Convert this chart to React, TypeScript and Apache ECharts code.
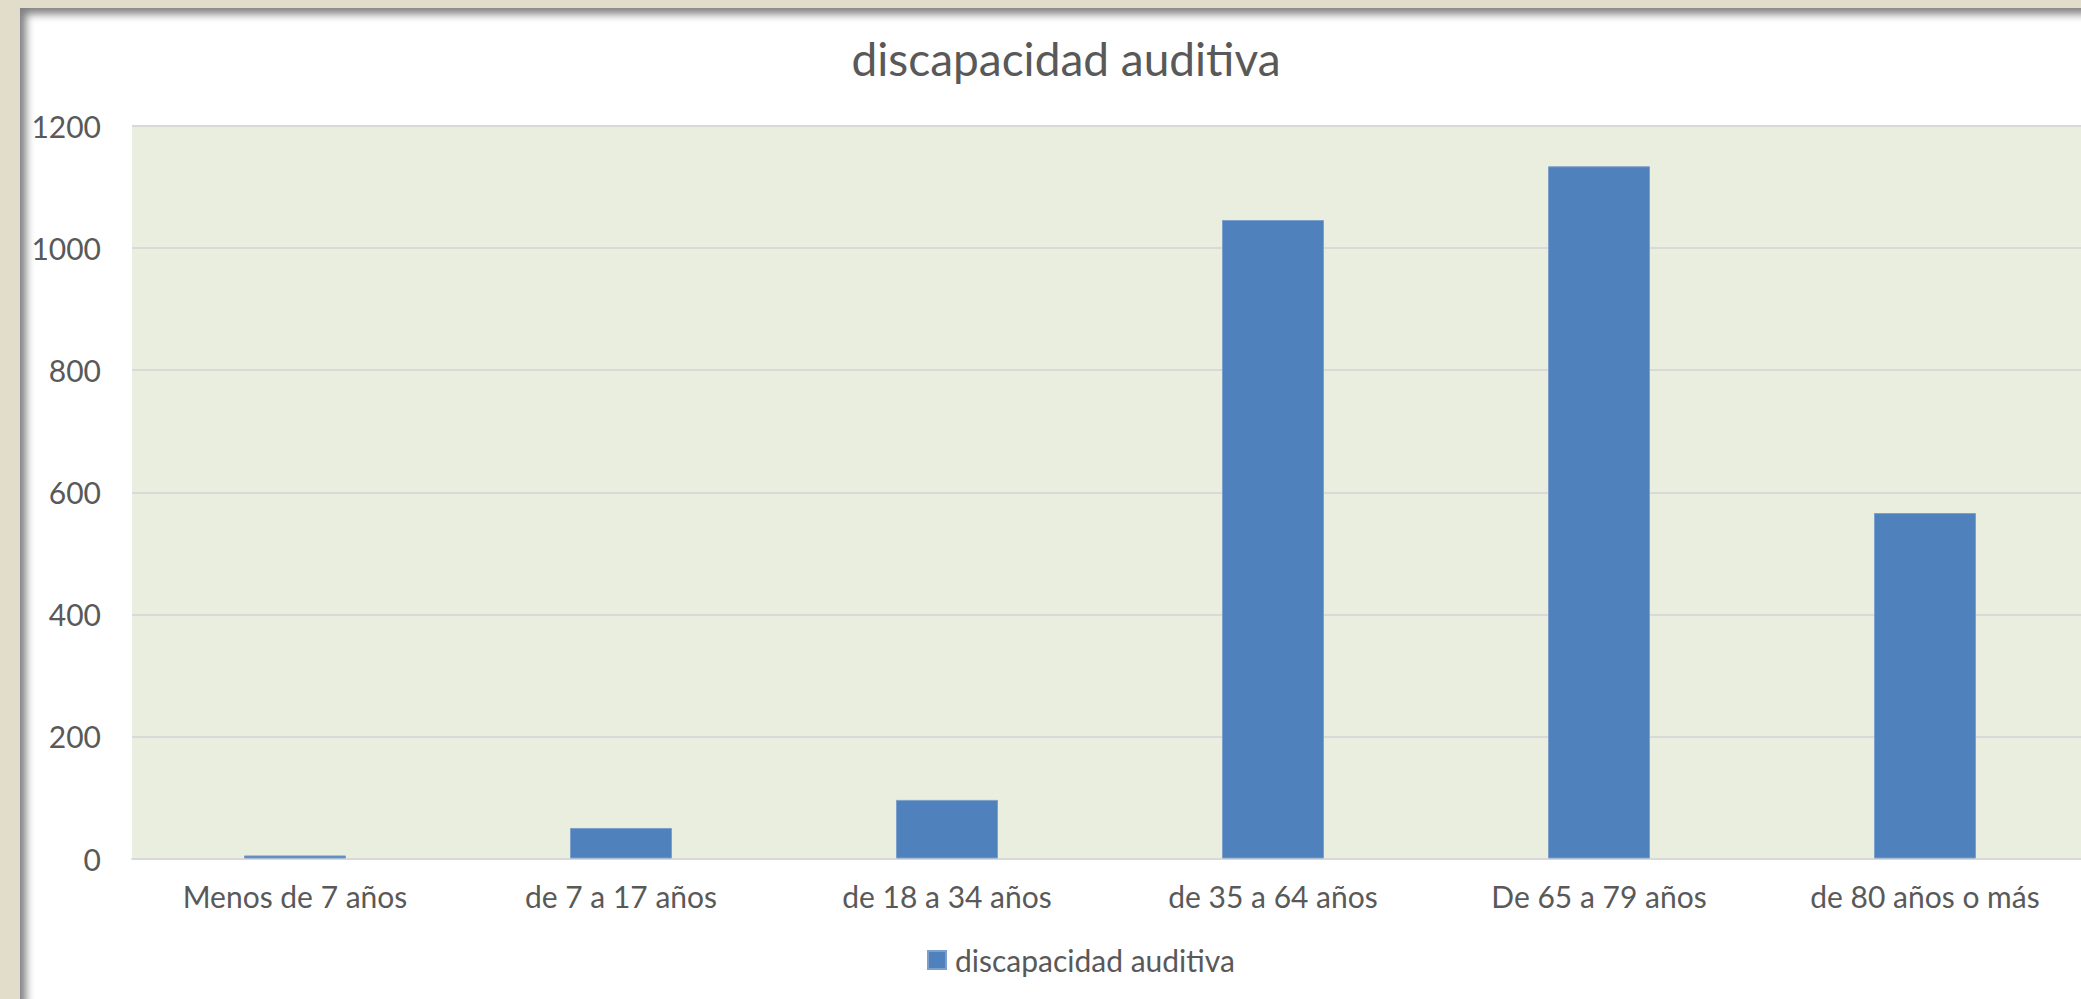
import React, { useEffect, useRef } from "react";
import * as echarts from "echarts";

const categories = [
  "Menos de 7 años",
  "de 7 a 17 años",
  "de 18 a 34 años",
  "de 35 a 64 años",
  "De 65 a 79 años",
  "de 80 años o más",
];
const seriesName = "discapacidad auditiva";
const values = [5, 50, 96, 1046, 1134, 566];
const yTicks = { min: 0, max: 1200, interval: 200 };

const FONT = "Lato, 'Open Sans', sans-serif";
const TEXT = "#595959";

export default function App() {
  const ref = useRef<HTMLDivElement>(null);
  useEffect(() => {
    if (!ref.current) return;
    const chart = echarts.init(ref.current, null, { renderer: "svg" });
    chart.setOption({
      animation: false,
      textStyle: { fontFamily: FONT },
      title: {
        text: "discapacidad auditiva",
        left: "center",
        top: 22,
        textStyle: { fontFamily: FONT, fontSize: 46, fontWeight: "normal", color: TEXT },
      },
      legend: {
        data: [seriesName],
        left: 902,
        top: 932,
        icon: "rect",
        itemWidth: 18,
        itemHeight: 18,
        itemGap: 6,
        textStyle: { fontFamily: FONT, fontSize: 30, color: TEXT, padding: [0, 0, 0, 4] },
      },
      grid: { left: 112, top: 118, width: 1956, height: 732.5, containLabel: false },
      xAxis: {
        type: "category",
        data: categories,
        axisLine: { show: true, lineStyle: { color: "#d9d9d9", width: 2 } },
        axisTick: { show: false },
        axisLabel: { color: TEXT, fontFamily: FONT, fontSize: 30, margin: 22 },
        splitLine: { show: false },
      },
      yAxis: {
        type: "value",
        min: yTicks.min,
        max: yTicks.max,
        interval: yTicks.interval,
        axisLine: { show: false },
        axisTick: { show: false },
        axisLabel: {
          color: TEXT,
          fontFamily: FONT,
          fontSize: 30,
          margin: 31,
          formatter: (v: number) => String(v),
        },
        splitLine: { lineStyle: { color: "#d9d9d9", width: 2 } },
        splitArea: { show: false },
      },
      series: [
        {
          name: seriesName,
          type: "bar",
          data: values,
          barWidth: 102,
          itemStyle: { color: "#4f81bd", borderColor: "#7d9fcb", borderWidth: 1 },
        },
      ],
    });
    return () => chart.dispose();
  }, []);

  return (
    <div
      style={{
        position: "absolute",
        left: 0,
        top: 0,
        width: 2081,
        height: 999,
        overflow: "hidden",
        background: "#e2dccb",
      }}
    >
      <div
        style={{
          position: "absolute",
          left: 20,
          top: 8,
          width: 2092,
          height: 1100,
          background: "#ffffff",
          boxShadow: "inset 6px 6px 9px rgba(0,0,0,0.5)",
        }}
      >
        <div
          style={{
            position: "absolute",
            left: 112,
            top: 118,
            width: 1956,
            height: 732.5,
            background: "#eaeedf",
          }}
        />
        <div ref={ref} style={{ position: "absolute", left: 0, top: 0, width: 2092, height: 991 }} />
      </div>
    </div>
  );
}
